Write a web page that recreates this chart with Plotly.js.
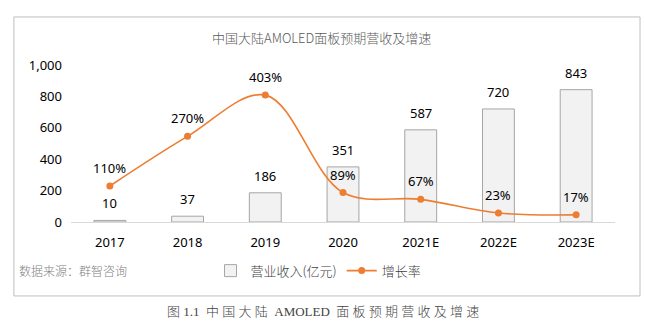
<!DOCTYPE html>
<html><head><meta charset="utf-8">
<script src="https://cdn.plot.ly/plotly-3.0.1.min.js"></script>
<style>html,body{margin:0;padding:0;background:#fff;}#chart{width:645px;height:321px;}</style>
</head><body><div id="chart"></div>
<script>
const categories = ['2017','2018','2019','2020','2021E','2022E','2023E'];
const revenue = [10, 37, 186, 351, 587, 720, 843];
const growth = [110, 270, 403, 89, 67, 23, 17];
const growthLabels = ['110%','270%','403%','89%','67%','23%','17%'];

const numFont = {family: 'Noto Sans, DejaVu Sans, sans-serif', size: 13, color: '#000'};
const cjk = 'Noto Sans CJK SC, sans-serif';

const traces = [
  {type: 'bar', x: categories, y: revenue, name: '营业收入(亿元)', width: 0.41,
   marker: {color: '#F2F2F2', line: {color: '#A6A6A6', width: 1}}, hoverinfo: 'skip'},
  {type: 'scatter', mode: 'lines+markers', x: categories, y: growth, yaxis: 'y2', name: '增长率',
   line: {color: '#ED7D31', width: 1.6, shape: 'spline', smoothing: 1},
   marker: {color: '#ED7D31', size: 7}, hoverinfo: 'skip'}
];

const annotations = [];
categories.forEach((c, i) => {
  annotations.push({x: i, y: revenue[i], xref: 'x', yref: 'y', text: String(revenue[i]),
    showarrow: false, yshift: 17, yanchor: 'middle', font: numFont});
  annotations.push({x: i, y: growth[i], xref: 'x', yref: 'y2', text: growthLabels[i],
    showarrow: false, yshift: 18, yanchor: 'middle', font: numFont});
});
annotations.push({xref: 'paper', yref: 'paper', x: 0.461, y: 1.172, yanchor: 'middle', text: '中国大陆AMOLED面板预期营收及增速',
  showarrow: false, font: {family: cjk, size: 13, color: '#595959', weight: 300}});
annotations.push({xref: 'paper', yref: 'paper', x: -0.1, xanchor: 'left', y: -0.31, yanchor: 'middle', text: '数据来源：群智咨询',
  showarrow: false, font: {family: cjk, size: 12, color: '#7F7F7F', weight: 300}});
annotations.push({xref: 'paper', yref: 'paper', x: 0.464, y: -0.567, yanchor: 'middle',
  text: '图 1.1  中 国 大 陆  AMOLED  面 板 预 期 营 收 及 增 速',
  showarrow: false, font: {family: 'Liberation Serif, Noto Sans CJK SC, serif', size: 13, color: '#444', weight: 300}});

const layout = {
  width: 645, height: 321,
  margin: {l: 71, r: 30, t: 65, b: 99},
  paper_bgcolor: '#fff', plot_bgcolor: '#fff',
  showlegend: true,
  legend: {orientation: 'h', x: 0.455, xanchor: 'center', y: -0.31, yanchor: 'middle',
    font: {family: cjk, size: 13, color: '#404040', weight: 300}, bgcolor: 'rgba(0,0,0,0)'},
  xaxis: {type: 'category', range: [-0.5, 6.5], showgrid: false, zeroline: false, showline: true,
    linecolor: '#D9D9D9', linewidth: 1, ticks: '', tickfont: numFont, ticklabelstandoff: 8},
  yaxis: {range: [0, 1000], dtick: 200, tickformat: ',', showgrid: false, zeroline: false,
    showline: false, ticks: '', tickfont: numFont, ticklabelstandoff: 8},
  yaxis2: {range: [-6, 500], overlaying: 'y', side: 'right', visible: false, showgrid: false, zeroline: false},
  annotations: annotations,
  shapes: [{type: 'rect', xref: 'paper', yref: 'paper', x0: -0.105, x1: 1.046, y0: -0.471, y1: 1.306,
    line: {color: '#BFBFBF', width: 1}, fillcolor: 'rgba(0,0,0,0)', layer: 'below'}]
};

Plotly.newPlot('chart', traces, layout, {staticPlot: true, displayModeBar: false});
</script></body></html>
